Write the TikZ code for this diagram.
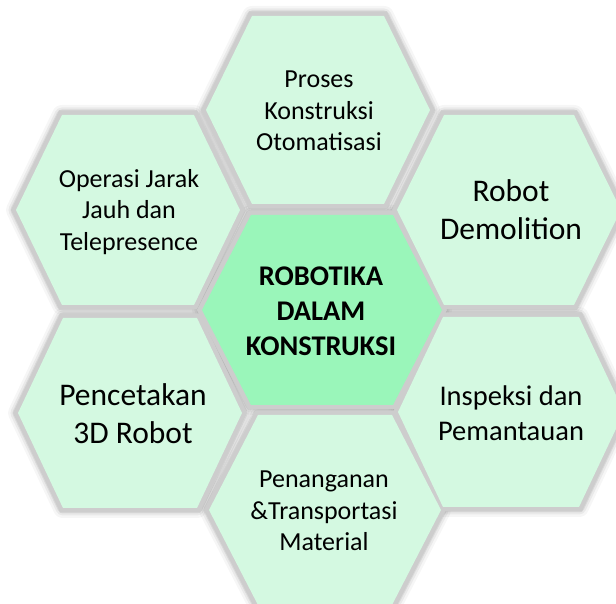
\documentclass[tikz,border=0pt]{standalone}
\usepackage{fontspec}
\setmainfont{Carlito}
\definecolor{mint}{HTML}{D4F9E1}
\definecolor{mintc}{HTML}{9AF6BA}
\definecolor{rim}{HTML}{CDCDCD}
\newcommand\hexp[5]{(#1-#3,604-#2) -- (#1-#4,604-#2+#5) -- (#1+#4,604-#2+#5) -- (#1+#3,604-#2) -- (#1+#4,604-#2-#5) -- (#1-#4,604-#2-#5) -- cycle}
\tikzset{
  hexlabel/.style={align=center, text=black, inner sep=0pt},
  smalltxt/.style={font=\fontsize{26}{31.5}\selectfont},
  bigtxt/.style={font=\fontsize{31.5}{38}\selectfont},
  midtxt/.style={font=\fontsize{28.5}{35}\selectfont},
  centertxt/.style={font=\bfseries\fontsize{28.5}{35}\selectfont},
}
\begin{document}
\begin{tikzpicture}[x=1pt,y=1pt]
\useasboundingbox (0,0) rectangle (616,604);
% hex list: cx/cy/halfwidth/halftop/halfheight
\def\hexlist{318/110/112/66/94, 128/210/112/66/95, 509/210/112/65/95, 130/413/112/67/95, 511/412/113/68/95, 325/510/116/67/95, 322/310/120/71/95}
% soft shadow
\foreach \cx/\cy/\hw/\ht/\hh in \hexlist {
  \foreach \w/\o in {20/0.035,15/0.05,11/0.07} {
    \draw[line width=\w pt, black, opacity=\o, line join=round] \hexp{\cx}{\cy}{\hw}{\ht}{\hh};
  }
}
% rim
\foreach \cx/\cy/\hw/\ht/\hh in \hexlist {
  \draw[line width=9pt, rim, line join=miter] \hexp{\cx}{\cy}{\hw}{\ht}{\hh};
}
% fills
\foreach \cx/\cy/\hw/\ht/\hh in {318/110/112/66/94, 128/210/112/66/95, 509/210/112/65/95, 130/413/112/67/95, 511/412/113/68/95, 325/510/116/67/95} {
  \fill[mint] \hexp{\cx}{\cy}{\hw}{\ht}{\hh};
}
\fill[mintc] \hexp{322}{310}{120}{71}{95};
% labels
\node[hexlabel, smalltxt] (top) at (319,604-111) {Proses\\Konstruksi\\Otomatisasi};
\node[hexlabel, smalltxt] (ul) at (129,604-212) {Operasi Jarak\\Jauh dan\\Telepresence};
\node[hexlabel, bigtxt] (ur) at (511,604-210) {Robot\\Demolition};
\node[hexlabel, bigtxt] (ll) at (133,604-414) {Pencetakan\\3D Robot};
\node[hexlabel, midtxt] (lr) at (511,604-413) {Inspeksi dan\\Pemantauan};
\node[hexlabel, smalltxt] (bot) at (324,604-511) {Penanganan\\\&Transportasi\\Material};
\node[hexlabel, centertxt] (ctr) at (321,604-311) {ROBOTIKA\\DALAM\\KONSTRUKSI};
\end{tikzpicture}
\end{document}
